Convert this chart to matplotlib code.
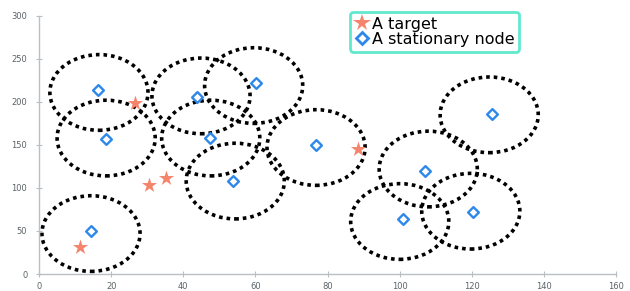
import matplotlib.pyplot as plt
from matplotlib.patches import Ellipse
from matplotlib.lines import Line2D

# stationary nodes (diamonds)
node_x = [16.3, 18.6, 43.9, 60.2, 47.4, 53.9, 76.8, 125.5, 107.0, 100.9, 120.2, 14.3]
node_y = [214, 157, 206, 222, 158, 108, 150, 186, 120, 64, 72, 50]

# targets (stars)
target_x = [26.7, 30.6, 35.1, 11.4, 88.5]
target_y = [199, 103, 112, 31, 145]

# coverage range drawn around every node
range_x = [16.6, 18.6, 44.9, 59.5, 47.6, 54.4, 76.8, 124.8, 107.9, 100.0, 119.7, 14.4]
range_y = [211, 158, 207, 219, 158, 108, 147, 185, 122, 61, 73, 47]
range_w = 27.2
range_h = 88

star_color = '#f4846c'
node_color = '#2e88ea'

fig = plt.figure(figsize=(6.3, 2.91), dpi=100)
ax = fig.add_axes([0.062, 0.0584, 0.916, 0.887])

for cx, cy in zip(range_x, range_y):
    ax.add_patch(Ellipse((cx, cy), range_w, range_h, fill=False,
                         edgecolor='black', linewidth=2.6,
                         linestyle=(0, (1, 1.1)), zorder=2))

ax.scatter(node_x, node_y, marker='D', s=30, facecolors='white',
           edgecolors=node_color, linewidths=1.7, zorder=3)
ax.scatter(target_x, target_y, marker='*', s=130, color=star_color,
           linewidths=0, zorder=3)

ax.set_xlim(0, 160)
ax.set_ylim(0, 300)
ax.set_xticks(range(0, 161, 20))
ax.set_yticks(range(0, 301, 50))

for side in ['top', 'right']:
    ax.spines[side].set_visible(False)
for side in ['left', 'bottom']:
    ax.spines[side].set_color('#b8c0c4')
    ax.spines[side].set_linewidth(1.0)
ax.tick_params(direction='inout', length=5, color='#b8c0c4',
               labelsize=6, labelcolor='#5a6266')
ax.tick_params(axis='x', pad=3)
ax.tick_params(axis='y', pad=6)

handles = [
    Line2D([], [], marker='*', linestyle='', color=star_color,
           markersize=13, markeredgewidth=0),
    Line2D([], [], marker='D', linestyle='', markerfacecolor='white',
           markeredgecolor=node_color, markeredgewidth=2, markersize=6.5),
]
leg = ax.legend(handles, ['A target', 'A stationary node'],
                loc='upper left', bbox_to_anchor=(350 / 630, 1 - 12 / 291),
                bbox_transform=fig.transFigure, fontsize=11.5,
                handlelength=0.9, handletextpad=0.15, labelspacing=0.0,
                borderpad=0.3, borderaxespad=0, fancybox=True,
                framealpha=1)
leg.get_frame().set_edgecolor('#62e8cc')
leg.get_frame().set_linewidth(2)

fig.savefig('out.png', dpi=100)
